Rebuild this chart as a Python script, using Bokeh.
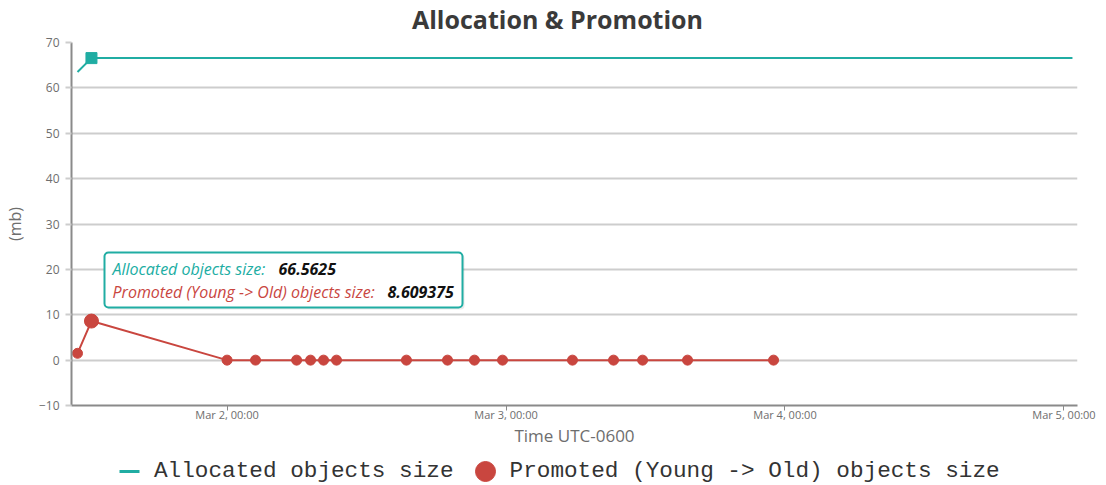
import pandas as pd
from bokeh.plotting import figure
from bokeh.layouts import column
from bokeh.models import (ColumnDataSource, FixedTicker, DatetimeTickFormatter, Range1d,
                          Legend, LegendItem, BoxAnnotation, Label)
from bokeh.embed import file_html
from bokeh.resources import INLINE

# ---------------- data ----------------
promo_times = ["2021-03-01 11:08", "2021-03-01 12:20", "2021-03-02 00:00", "2021-03-02 02:27",
               "2021-03-02 05:59", "2021-03-02 07:11", "2021-03-02 08:18", "2021-03-02 09:25",
               "2021-03-02 15:26", "2021-03-02 18:58", "2021-03-02 21:17", "2021-03-02 23:42",
               "2021-03-03 05:43", "2021-03-03 09:15", "2021-03-03 11:45", "2021-03-03 15:37",
               "2021-03-03 23:01"]
promo_sizes = [1.5, 8.609375, 0, 0, 0, 0, 0, 0, 0, 0, 0, 0, 0, 0, 0, 0, 0]

alloc_times = ["2021-03-01 11:08", "2021-03-01 12:20", "2021-03-02 00:00", "2021-03-02 02:27",
               "2021-03-02 05:59", "2021-03-02 07:11", "2021-03-02 08:18", "2021-03-02 09:25",
               "2021-03-02 15:26", "2021-03-02 18:58", "2021-03-02 21:17", "2021-03-02 23:42",
               "2021-03-03 05:43", "2021-03-03 09:15", "2021-03-03 11:45", "2021-03-03 15:37",
               "2021-03-03 23:01", "2021-03-05 00:44"]
alloc_sizes = [63.5, 66.5625, 66.5625, 66.5625, 66.5625, 66.5625, 66.5625, 66.5625, 66.5625,
               66.5625, 66.5625, 66.5625, 66.5625, 66.5625, 66.5625, 66.5625, 66.5625, 66.5625]

hover_idx = 1  # the point under the tooltip

x_tick_dates = ["2021-03-02 00:00", "2021-03-03 00:00", "2021-03-04 00:00", "2021-03-05 00:00"]
y_ticks = [-10, 0, 10, 20, 30, 40, 50, 60, 70]

title_text = "Allocation & Promotion"
alloc_label = "Allocated objects size"
promo_label = "Promoted (Young -> Old) objects size"

# ---------------- styles ----------------
TEAL = "#20ADA3"
RED = "#C9463F"
GRID = "#CDCDCD"
AXIS = "#8A8A8A"
TXT = "#6E6E6E"
FONT = "Open Sans"
W = 1106
TOP_H = 34      # title strip height
MAIN_H = 415    # chart height
LEG_H = 36      # legend strip height

def strip(h):
    f = figure(width=W, height=h, output_backend="svg", toolbar_location=None,
               x_axis_location=None, y_axis_location=None,
               x_range=Range1d(0, 1), y_range=Range1d(0, 1),
               min_border=0, min_border_left=0, min_border_right=0,
               min_border_top=0, min_border_bottom=0)
    f.grid.visible = False
    f.outline_line_color = None
    return f

# ---------------- title strip ----------------
tf = strip(TOP_H)
tf.add_layout(Label(x=557, y=18, x_units="canvas", y_units="canvas", text=title_text,
                    text_align="center", text_baseline="middle", text_font=FONT,
                    text_font_style="bold", text_font_size="25px", text_color="#3A3A3A"))

# ---------------- main chart ----------------
promo_src = ColumnDataSource(dict(t=pd.to_datetime(promo_times), v=promo_sizes))
alloc_src = ColumnDataSource(dict(t=pd.to_datetime(alloc_times), v=alloc_sizes))
hover_promo = ColumnDataSource(dict(t=pd.to_datetime([promo_times[hover_idx]]), v=[promo_sizes[hover_idx]]))
hover_alloc = ColumnDataSource(dict(t=pd.to_datetime([alloc_times[hover_idx]]), v=[alloc_sizes[hover_idx]]))

p = figure(width=W, height=MAIN_H, x_axis_type="datetime",
           x_range=Range1d(pd.Timestamp("2021-03-01 10:37"), pd.Timestamp("2021-03-05 01:10")),
           y_range=Range1d(-10, 70),
           output_backend="svg", toolbar_location=None,
           min_border_left=71, min_border_right=29, min_border_top=8, min_border_bottom=44)

p.outline_line_color = None
p.background_fill_color = "white"
p.border_fill_color = "white"

# grids
p.xgrid.visible = False
p.ygrid.grid_line_color = GRID
p.ygrid.grid_line_width = 2

# x axis
xa = p.xaxis[0]
xa.ticker = FixedTicker(ticks=[pd.Timestamp(d).value / 1e6 for d in x_tick_dates])
xa.formatter = DatetimeTickFormatter(days="%b %-d, %H:%M", hours="%b %-d, %H:%M")
xa.axis_line_color = AXIS
xa.axis_line_width = 2
xa.major_tick_line_color = AXIS
xa.major_tick_out = 5
xa.major_tick_in = 0
xa.minor_tick_line_color = None
xa.major_label_text_font = FONT
xa.major_label_text_font_size = "11px"
xa.major_label_text_color = TXT
xa.major_label_standoff = -4
xa.axis_label = "Time UTC-0600"
xa.axis_label_text_font = FONT
xa.axis_label_text_font_size = "17px"
xa.axis_label_text_font_style = "normal"
xa.axis_label_text_color = TXT
xa.axis_label_standoff = -1

# y axis
ya = p.yaxis[0]
ya.ticker = FixedTicker(ticks=y_ticks)
ya.axis_line_color = AXIS
ya.axis_line_width = 2
ya.major_tick_line_color = GRID
ya.major_tick_line_width = 2
ya.major_tick_out = 6
ya.major_tick_in = 0
ya.minor_tick_line_color = None
ya.major_label_text_font = FONT
ya.major_label_text_font_size = "12px"
ya.major_label_text_color = TXT
ya.major_label_standoff = 6
ya.axis_label = "(mb)"
ya.axis_label_text_font = FONT
ya.axis_label_text_font_size = "16px"
ya.axis_label_text_font_style = "normal"
ya.axis_label_text_color = TXT
ya.axis_label_standoff = 10

# series
p.line("t", "v", source=alloc_src, line_color=TEAL, line_width=2)
p.line("t", "v", source=promo_src, line_color=RED, line_width=2)
p.scatter("t", "v", source=promo_src, marker="circle", size=10, fill_color=RED, line_color=RED)
p.scatter("t", "v", source=hover_promo, marker="circle", size=14, fill_color=RED, line_color=RED)
p.scatter("t", "v", source=hover_alloc, marker="square", size=11, fill_color=TEAL, line_color=TEAL)

# tooltip (canvas coordinates of this chart, which starts below the title strip)
def box(l, r, t, b, **kw):
    return BoxAnnotation(left=l, right=r, top=t - TOP_H, bottom=b - TOP_H,
                         left_units="canvas", right_units="canvas",
                         top_units="canvas", bottom_units="canvas",
                         border_radius=4, level="overlay", **kw)

p.add_layout(box(106, 464, 254, 309, fill_color="black", fill_alpha=0.08, line_alpha=0))
p.add_layout(box(104, 462, 252, 307, fill_color="white", fill_alpha=1,
                 line_color=TEAL, line_alpha=1, line_width=2))

def tip(x, y, text, color, style="italic"):
    p.add_layout(Label(x=x, y=y - TOP_H, x_units="canvas", y_units="canvas", text=text,
                       text_baseline="middle", text_align="left", text_font=FONT,
                       text_font_style=style, text_font_size="16px", text_color=color,
                       level="overlay"))

tip(112, 268, alloc_label + ":", TEAL)
tip(278, 268, f"{alloc_sizes[hover_idx]}", "#111111", "bold italic")
tip(112, 291, promo_label + ":", RED)
tip(387, 291, f"{promo_sizes[hover_idx]}", "#111111", "bold italic")

# ---------------- legend strip ----------------
# own figure so the big legend symbols are not clipped; the renderers reuse the
# series data, which lies outside this strip's ranges
lg = strip(LEG_H)
dash_r = lg.scatter("t", "v", source=alloc_src, marker="dash", line_color=TEAL, line_width=3)
dot_r = lg.scatter("t", "v", source=promo_src, marker="circle", fill_color=RED, line_color=RED)
legend = Legend(items=[LegendItem(label=alloc_label, renderers=[dash_r]),
                       LegendItem(label=promo_label, renderers=[dot_r])],
                orientation="horizontal", location=(33, -11),
                glyph_width=50, glyph_height=50, label_standoff=-8, spacing=6,
                padding=0, margin=0, border_line_color=None, background_fill_alpha=0,
                label_text_font="Liberation Mono", label_text_font_size="22.7px",
                label_text_color="#333333")
lg.add_layout(legend, "center")

layout = column(tf, p, lg, spacing=0)
open("out.html", "w").write(file_html(layout, INLINE))
